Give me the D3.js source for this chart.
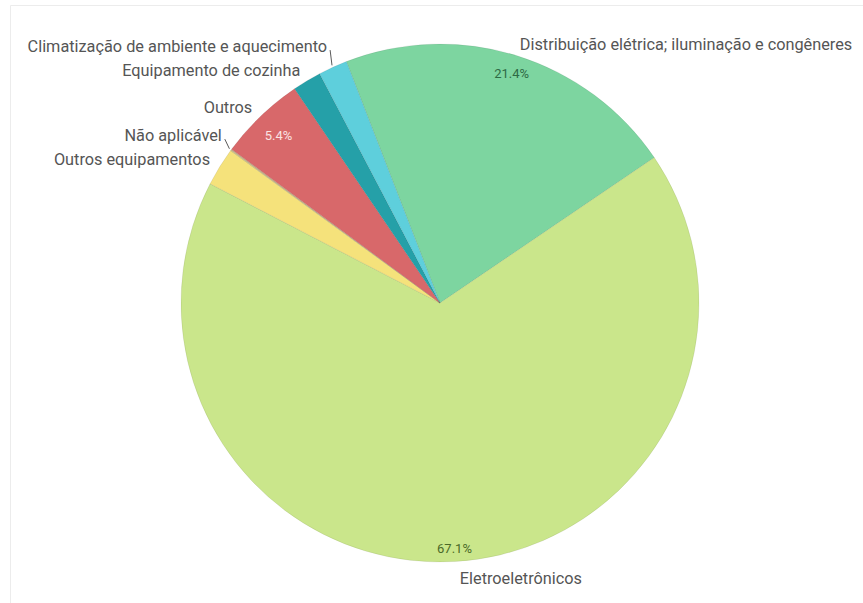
<!DOCTYPE html>
<html>
<head>
<meta charset="utf-8">
<script src="https://cdn.jsdelivr.net/npm/d3@7"></script>
<style>
  body { margin: 0; background: #fff; }
  text { font-family: Roboto, "Noto Sans", sans-serif; }
</style>
</head>
<body>
<div id="chart"></div>
<script>
// slices in clockwise order, starting at Distribuição
var categories = ["Distribuição elétrica; iluminação e congêneres", "Eletroeletrônicos",
    "Outros equipamentos", "Não aplicável", "Outros", "Equipamento de cozinha",
    "Climatização de ambiente e aquecimento"];
var shares = [21.4, 67.1, 2.4, 0.1, 5.4, 1.8, 1.8];

var colors = ["#7dd5a0", "#cae68b", "#f5e27b", "#c9b98a", "#d8686a", "#25a0a8", "#5ecfdc"];
var pctColors = ["#2e6a45", "#4b6a28", "#333", "#333", "#fbe3e3", "#fff", "#fff"];

var width = 863, height = 603;
var cx = 440, cy = 303, radius = 259;

var svg = d3.select("#chart").append("svg")
    .attr("width", width)
    .attr("height", height);

// faint frame
svg.append("path")
    .attr("d", "M10.5,603 L10.5,5.5 L863,5.5")
    .attr("fill", "none")
    .attr("stroke", "#ececec")
    .attr("stroke-width", 1);

var data = categories.map(function(c, i) { return {name: c, value: shares[i], i: i}; });

var pie = d3.pie()
    .sort(null)
    .value(function(d) { return d.value; })
    .startAngle(-21.2 * Math.PI / 180)
    .endAngle((360 - 21.2) * Math.PI / 180);

var arcs = pie(data);

var arc = d3.arc().innerRadius(0).outerRadius(radius);

var g = svg.append("g").attr("transform", "translate(" + cx + "," + cy + ")");

g.selectAll(".slice")
    .data(arcs)
  .enter().append("path")
    .attr("class", "slice")
    .attr("d", arc)
    .attr("fill", function(d) { return colors[d.data.i]; })
    .attr("stroke", "rgba(0,0,0,0.12)")
    .attr("stroke-width", 0.6);

// percentage labels inside the bigger slices
arcs.filter(function(d) { return d.data.value >= 5; }).forEach(function(d) {
    var a = (d.startAngle + d.endAngle) / 2;
    var txt = d.data.value.toFixed(1) + "%";
    var hw = 22, hh = 4;
    var rr = radius - 8 - (hw * Math.abs(Math.sin(a)) + hh * Math.abs(Math.cos(a)));
    g.append("text")
        .attr("x", rr * Math.sin(a))
        .attr("y", -rr * Math.cos(a))
        .attr("text-anchor", "middle")
        .attr("dy", "0.35em")
        .attr("font-size", 13)
        .attr("fill", pctColors[d.data.i])
        .text(txt);
});

// outside labels
var labelR = radius + 9;
var labels = arcs.map(function(d) {
    var a = (d.startAngle + d.endAngle) / 2;
    var right = Math.sin(a) >= 0;
    var bottom = Math.cos(a) < 0;
    return {
        d: d, a: a, right: right,
        x: labelR * Math.sin(a) + (right ? (bottom ? 4 : 0) : -2),
        y0: -labelR * Math.cos(a) + (bottom ? 8 : -2.5)
    };
});
labels.forEach(function(l) { l.y = l.y0; });

// push overlapping left labels upward
var gap = 24.5;
var left = labels.filter(function(l) { return !l.right; })
    .sort(function(a, b) { return b.y - a.y; });
for (var k = 1; k < left.length; k++) {
    if (left[k].y > left[k - 1].y - gap) left[k].y = left[k - 1].y - gap;
}

labels.forEach(function(l) {
    if (Math.abs(l.y - l.y0) > 3) {
        var pr = radius + 2;
        g.append("line")
            .attr("x1", pr * Math.sin(l.a))
            .attr("y1", -pr * Math.cos(l.a))
            .attr("x2", l.x + 3)
            .attr("y2", l.y + 4)
            .attr("stroke", "#595959")
            .attr("stroke-width", 1);
    }
    g.append("text")
        .attr("x", l.x)
        .attr("y", l.y)
        .attr("dy", "0.35em")
        .attr("text-anchor", l.right ? "start" : "end")
        .attr("font-size", 16.3)
        .attr("fill", "#555")
        .text(l.d.data.name);
});
</script>
</body>
</html>
